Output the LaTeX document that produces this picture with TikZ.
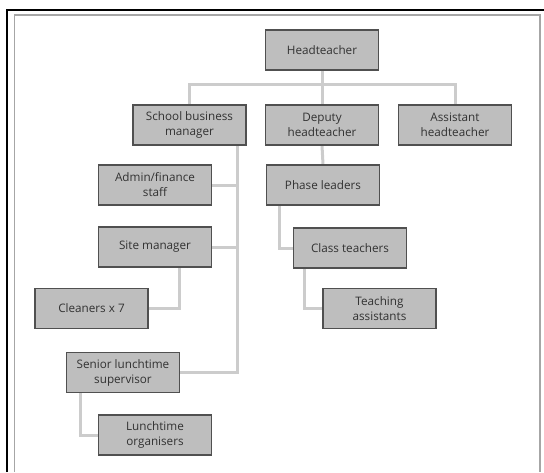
\documentclass[tikz,border=0pt]{standalone}
\usepackage{fontspec}
\setmainfont{Open Sans}
\usetikzlibrary{backgrounds}
\definecolor{boxfill}{RGB}{190,190,190}
\definecolor{boxline}{RGB}{80,80,80}
\definecolor{linkgray}{RGB}{204,204,204}
\definecolor{inkgray}{RGB}{50,50,50}

\begin{document}
\begin{tikzpicture}[x=1pt,y=-1pt,
  post/.style = {shape=rectangle, draw=boxline, line width=1.1pt,
    fill=boxfill, text=inkgray, minimum width=113pt, minimum height=40pt,
    inner sep=0pt, align=center, font=\fontsize{11.7}{15}\selectfont},
  link/.style = {draw=linkgray, line width=3pt}]
  \useasboundingbox (0,0) rectangle (544,472);
  % frame
  \draw[line width=2.5pt] (7,472) -- (7,10) -- (544,10);
  \draw[line width=1.5pt, gray!70] (14.5,472) -- (14.5,15) -- (540,15) -- (540,472);

  \node[post] (head)   at (322,50)    {Headteacher};
  \node[post] (sbm)    at (189.5,125) {School business\\manager};
  \node[post] (deputy) at (322,125)   {Deputy\\headteacher};
  \node[post] (asst)   at (455,125)   {Assistant\\headteacher};
  \node[post] (admin)  at (155,185)   {Admin/finance\\staff};
  \node[post] (site)   at (155,247)   {Site manager};
  \node[post] (clean)  at (91.5,308.5) {Cleaners x 7};
  \node[post] (senior) at (123,372.5) {Senior lunchtime\\supervisor};
  \node[post] (lorg)   at (155,435)   {Lunchtime\\organisers};
  \node[post] (phase)  at (323,185)   {Phase leaders};
  \node[post] (class)  at (350,248)   {Class teachers};
  \node[post] (ta)     at (379.5,308.5) {Teaching\\assistants};

  % elbow points
  \coordinate (bar)   at (322,84);
  \coordinate (spine) at (237.5,145);
  \coordinate (sdrop) at (179.5,267);
  \coordinate (ldrop) at (80,392.5);
  \coordinate (pdrop) at (279,205);
  \coordinate (cdrop) at (304,268);

  \begin{scope}[on background layer]
  \draw[link] (head.south) -- (bar);
  \draw[link] (sbm.north) |- (bar) -| (asst.north);
  \draw[link] (bar) -- (deputy.north);
  \draw[link] (spine) |- (senior.east);
  \draw[link] (admin.east) -- (admin.east -| spine);
  \draw[link] (site.east) -- (site.east -| spine);
  \draw[link] (sdrop) |- (clean.east);
  \draw[link] (ldrop) |- (lorg.west);
  \draw[link] (deputy.south) -- (phase.north);
  \draw[link] (pdrop) |- (class.west);
  \draw[link] (cdrop) |- (ta.west);
  \end{scope}
\end{tikzpicture}
\end{document}
